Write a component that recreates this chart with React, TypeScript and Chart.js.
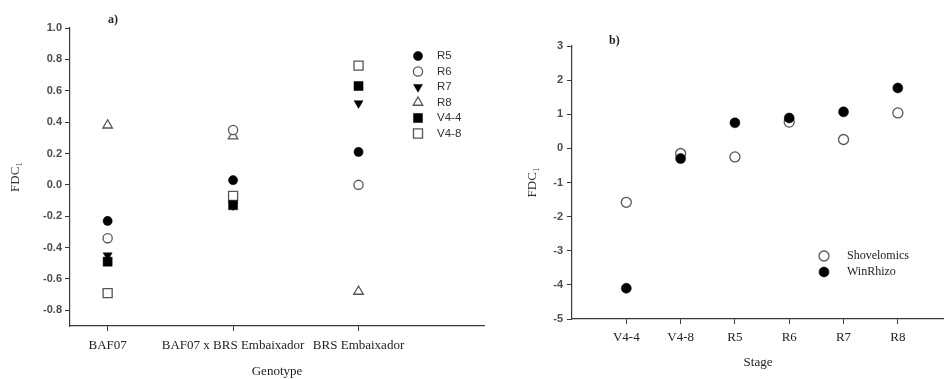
import React, { useEffect, useRef } from 'react';
import { Chart, registerables } from 'chart.js';
import { drawPoint } from 'chart.js/helpers';

Chart.register(...registerables);

// ---- Panel a) data ----
const genotypes = ['BAF07', 'BAF07 x BRS Embaixador', 'BRS Embaixador'];
const seriesNamesA = ['R5', 'R6', 'R7', 'R8', 'V4-4', 'V4-8'];
const r5 = [-0.23, 0.03, 0.21];
const r6 = [-0.34, 0.35, 0.0];
const r7 = [-0.45, -0.13, 0.52];
const r8 = [0.38, 0.31, -0.68];
const v44 = [-0.49, -0.13, 0.63];
const v48 = [-0.69, -0.07, 0.76];
const yTicksA = [-0.8, -0.6, -0.4, -0.2, 0.0, 0.2, 0.4, 0.6, 0.8, 1.0];

// ---- Panel b) data ----
const stages = ['V4-4', 'V4-8', 'R5', 'R6', 'R7', 'R8'];
const seriesNamesB = ['Shovelomics', 'WinRhizo'];
const shovelomics = [-1.58, -0.15, -0.25, 0.77, 0.26, 1.04];
const winrhizo = [-4.1, -0.3, 0.75, 0.89, 1.07, 1.77];
const yTicksB = [-5, -4, -3, -2, -1, 0, 1, 2, 3];

const AXIS = '#3a3a3a';
const OPEN = '#555555';
const TICK_COLOR = '#4a4a55';

type Sty = { pointStyle: string; rotation: number; radius: number; filled: boolean; order: number };

const stylesA: Sty[] = [
  { pointStyle: 'circle', rotation: 0, radius: 4.6, filled: true, order: 1 },
  { pointStyle: 'circle', rotation: 0, radius: 4.6, filled: false, order: 2 },
  { pointStyle: 'triangle', rotation: 180, radius: 5.2, filled: true, order: 3 },
  { pointStyle: 'triangle', rotation: 0, radius: 5.5, filled: false, order: 4 },
  { pointStyle: 'rect', rotation: 0, radius: 6.4, filled: true, order: 0 },
  { pointStyle: 'rect', rotation: 0, radius: 6.4, filled: false, order: 5 },
];
const stylesB: Sty[] = [
  { pointStyle: 'circle', rotation: 0, radius: 5, filled: false, order: 1 },
  { pointStyle: 'circle', rotation: 0, radius: 5, filled: true, order: 0 },
];

function makeDataset(label: string, values: number[], s: Sty) {
  return {
    label,
    data: values.map((y, i) => ({ x: i, y })),
    pointStyle: s.pointStyle,
    rotation: s.rotation,
    pointRadius: s.radius,
    pointHoverRadius: s.radius,
    backgroundColor: s.filled ? '#000000' : '#ffffff',
    borderColor: s.filled ? '#000000' : OPEN,
    borderWidth: s.filled ? 0.5 : 1.3,
    order: s.order,
    showLine: false,
  };
}

function overlayPlugin(opts: {
  title: string; tx: number; ty: number;
  lx: number; ltx: number; ly: number; lstep: number; lfont: string; lcolor: string;
  styles: Sty[]; names: string[]; legendScale: number;
}) {
  return {
    id: 'overlay',
    afterDraw(chart: any) {
      const ctx = chart.ctx as CanvasRenderingContext2D;
      ctx.save();
      ctx.font = 'bold 12px "Liberation Serif"';
      ctx.fillStyle = '#222';
      ctx.textAlign = 'left';
      ctx.textBaseline = 'middle';
      ctx.fillText(opts.title, opts.tx, opts.ty);
      opts.names.forEach((name, i) => {
        const s = opts.styles[i];
        const y = opts.ly + i * opts.lstep;
        ctx.fillStyle = s.filled ? '#000' : '#fff';
        ctx.strokeStyle = s.filled ? '#000' : OPEN;
        ctx.lineWidth = s.filled ? 0.5 : 1.3;
        drawPoint(ctx, {
          pointStyle: s.pointStyle as any,
          rotation: s.rotation,
          radius: s.radius * opts.legendScale,
          borderWidth: ctx.lineWidth,
        } as any, opts.lx, y);
        ctx.font = opts.lfont;
        ctx.fillStyle = opts.lcolor;
        ctx.textAlign = 'left';
        ctx.textBaseline = 'middle';
        ctx.fillText(name, opts.ltx, y);
      });
      ctx.restore();
    },
  };
}

function axisCommon() {
  return {
    grid: { display: true, drawOnChartArea: false, drawTicks: true, tickLength: 5, color: AXIS, lineWidth: 1 },
    border: { display: true, color: AXIS, width: 1.2 },
  };
}

function PanelA() {
  const ref = useRef<HTMLCanvasElement>(null);
  useEffect(() => {
    const values = [r5, r6, r7, r8, v44, v48];
    const chart = new Chart(ref.current!, {
      type: 'scatter',
      data: { datasets: seriesNamesA.map((n, i) => makeDataset(n, values[i], stylesA[i])) as any },
      options: {
        animation: false,
        responsive: false,
        devicePixelRatio: 1,
        layout: { autoPadding: false, padding: { top: 28, right: 6, left: 0, bottom: 0 } },
        plugins: { legend: { display: false }, tooltip: { enabled: false }, title: { display: false } },
        scales: {
          x: {
            type: 'linear', min: -0.3, max: 3.0,
            ...axisCommon(),
            afterBuildTicks: (s: any) => { s.ticks = genotypes.map((_, i) => ({ value: i })); },
            afterFit: (s: any) => { s.height = 53; },
            ticks: {
              autoSkip: false, maxRotation: 0, minRotation: 0, padding: 7,
              color: '#222', font: { family: '"Liberation Serif"', size: 13 },
              callback: (v: any) => genotypes[Number(v)] ?? '',
            },
            title: { display: true, text: 'Genotype', color: '#222', padding: { top: 0, bottom: 0 }, font: { family: '"Liberation Serif"', size: 13 } },
          },
          y: {
            type: 'linear', min: -0.9, max: 1.0,
            ...axisCommon(),
            afterBuildTicks: (s: any) => { s.ticks = yTicksA.map((v) => ({ value: v })); },
            afterFit: (s: any) => { s.width = 70; },
            ticks: {
              padding: 3, color: TICK_COLOR, font: { family: '"Liberation Sans"', size: 11, weight: 'bold' },
              callback: (v: any) => Number(v).toFixed(1),
            },
            title: { display: true, text: 'FDC₁', color: '#333', padding: { top: 8, bottom: 0 }, font: { family: '"Liberation Serif"', size: 13 } },
          },
        },
      } as any,
      plugins: [overlayPlugin({
        title: 'a)', tx: 108, ty: 20,
        lx: 418, ltx: 437, ly: 56, lstep: 15.5, lfont: '11.5px "Liberation Sans"', lcolor: '#333',
        styles: stylesA, names: seriesNamesA, legendScale: 1,
      })],
    });
    return () => chart.destroy();
  }, []);
  return <canvas ref={ref} width={490} height={379} style={{ position: 'absolute', left: 0, top: 0 }} />;
}

function PanelB() {
  const ref = useRef<HTMLCanvasElement>(null);
  useEffect(() => {
    const values = [shovelomics, winrhizo];
    const chart = new Chart(ref.current!, {
      type: 'scatter',
      data: { datasets: seriesNamesB.map((n, i) => makeDataset(n, values[i], stylesB[i])) as any },
      options: {
        animation: false,
        responsive: false,
        devicePixelRatio: 1,
        layout: { autoPadding: false, padding: { top: 46, right: 0, left: 0, bottom: 0 } },
        plugins: { legend: { display: false }, tooltip: { enabled: false }, title: { display: false } },
        scales: {
          x: {
            type: 'linear', min: -1.0, max: 5.85,
            ...axisCommon(),
            afterBuildTicks: (s: any) => { s.ticks = stages.map((_, i) => ({ value: i })); },
            afterFit: (s: any) => { s.height = 60; },
            ticks: {
              autoSkip: false, maxRotation: 0, minRotation: 0, padding: 6,
              color: '#222', font: { family: '"Liberation Serif"', size: 13 },
              callback: (v: any) => stages[Number(v)] ?? '',
            },
            title: { display: true, text: 'Stage', color: '#222', padding: { top: 0, bottom: 9 }, font: { family: '"Liberation Serif"', size: 13 } },
          },
          y: {
            type: 'linear', min: -5, max: 3,
            ...axisCommon(),
            afterBuildTicks: (s: any) => { s.ticks = yTicksB.map((v) => ({ value: v })); },
            afterFit: (s: any) => { s.width = 82; },
            ticks: {
              padding: 4, color: TICK_COLOR, font: { family: '"Liberation Sans"', size: 11, weight: 'bold' },
              callback: (v: any) => String(v),
            },
            title: { display: true, text: 'FDC₁', color: '#333', padding: { top: 35, bottom: 0 }, font: { family: '"Liberation Serif"', size: 13 } },
          },
        },
      } as any,
      plugins: [overlayPlugin({
        title: 'b)', tx: 119, ty: 41,
        lx: 334, ltx: 357, ly: 256, lstep: 16, lfont: '12px "Liberation Serif"', lcolor: '#222',
        styles: stylesB, names: seriesNamesB, legendScale: 1,
      })],
    });
    return () => chart.destroy();
  }, []);
  return <canvas ref={ref} width={454} height={379} style={{ position: 'absolute', left: 490, top: 0 }} />;
}

export default function App() {
  return (
    <div style={{ position: 'absolute', left: 0, top: 0, width: 944, height: 379, background: '#fff', overflow: 'hidden' }}>
      <PanelA />
      <PanelB />
    </div>
  );
}
